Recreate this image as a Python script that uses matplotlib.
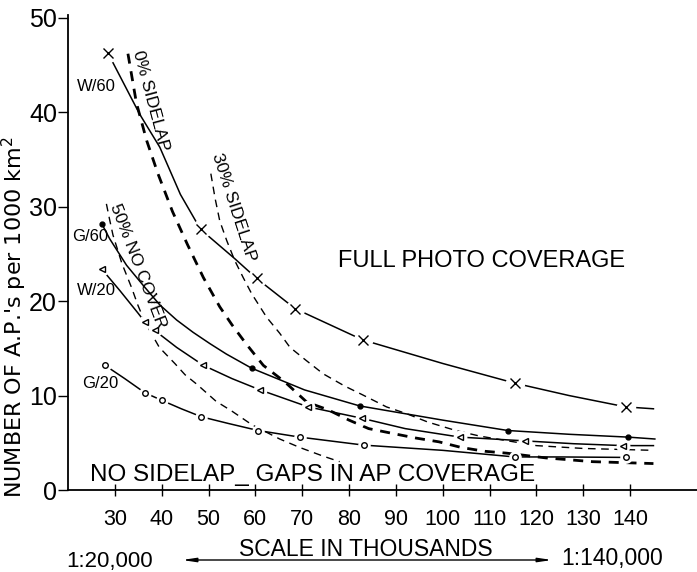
import matplotlib
matplotlib.use("Agg")
from matplotlib import pyplot as plt

# Number of air photos per 1000 km2 against photo scale (in thousands)
# curves with markers: W/60, G/60, W/20, G/20
w60_x = [28.5, 35.3, 39.6, 44.0, 48.3, 55.6, 60.3, 68.5, 82.9, 100.0, 115.5, 127.0, 139.1, 145.0]
w60_y = [46.3, 39.8, 36.3, 31.3, 27.6, 24.5, 22.4, 19.2, 15.9, 13.4, 11.3, 10.0, 8.8, 8.6]
w60_marks = [0, 4, 6, 7, 8, 10, 12]

g60_x = [27.2, 28.9, 32.5, 36.0, 39.6, 43.2, 46.7, 50.3, 53.8, 59.2, 70.5, 82.3, 100.0, 113.9, 127.0, 139.6, 145.3]
g60_y = [28.2, 26.6, 23.8, 21.7, 19.6, 18.0, 16.7, 15.5, 14.4, 12.9, 10.6, 8.9, 7.4, 6.3, 5.9, 5.6, 5.4]
g60_marks = [0, 9, 11, 13, 15]

w20_x = [27.2, 31.1, 35.0, 36.4, 38.5, 43.2, 48.9, 55.0, 61.0, 71.3, 82.7, 92.0, 103.7, 117.6, 128.0, 138.6, 145.0]
w20_y = [23.4, 21.1, 18.7, 17.8, 16.9, 15.1, 13.2, 11.8, 10.6, 8.8, 7.6, 6.5, 5.6, 5.2, 4.9, 4.7, 4.7]
w20_marks = [0, 3, 4, 6, 8, 9, 10, 12, 13, 15]

g20_x = [27.9, 32.1, 36.4, 40.0, 44.2, 48.5, 54.2, 60.6, 69.5, 83.2, 100.0, 115.4, 125.0, 139.1]
g20_y = [13.2, 11.8, 10.3, 9.5, 8.6, 7.75, 7.05, 6.3, 5.6, 4.75, 4.2, 3.5, 3.5, 3.45]
g20_marks = [0, 2, 3, 5, 7, 8, 9, 11, 13]

# boundary curves (dashed)
side0_x = [32.8, 34.6, 36.8, 39.2, 42.3, 45.5, 48.9, 52.4, 55.0, 58.0, 61.7, 66.4, 71.0, 75.5, 80.0,
           84.2, 89.2, 94.3, 99.2, 104.0, 109.0, 113.7, 122.0, 132.0, 145.0]
side0_y = [46.2, 41.0, 37.0, 33.5, 29.5, 26.0, 22.5, 19.4, 17.5, 15.5, 13.2, 11.4, 9.3, 8.5, 7.4,
           6.5, 6.0, 5.5, 5.1, 4.5, 4.1, 3.9, 3.4, 3.0, 2.8]

side30_x = [50.5, 51.4, 52.4, 53.9, 55.6, 57.4, 59.2, 62.4, 65.2, 67.4, 70.9, 74.5, 79.1, 82.8, 88.0,
            92.2, 96.8, 102.8, 108.0, 114.0, 120.0, 130.0, 145.0]
side30_y = [33.5, 30.9, 28.5, 26.4, 24.3, 22.5, 20.8, 18.3, 16.6, 15.1, 13.7, 12.3, 11.0, 10.1, 8.8,
            8.1, 7.2, 6.3, 5.7, 5.2, 4.7, 4.4, 4.2]

nocover_x = [28.2, 28.9, 29.6, 31.5, 33.6, 34.9, 36.4, 39.5, 42.8, 45.0, 47.5, 51.6, 55.0, 59.3,
             65.2, 69.5, 74.4, 78.0]
nocover_y = [30.3, 28.6, 27.0, 24.0, 21.4, 19.6, 17.8, 15.1, 13.4, 12.2, 11.2, 9.4, 8.35, 6.9,
             5.4, 4.5, 3.6, 3.0]

x_ticks = [30, 40, 50, 60, 70, 80, 90, 100, 110, 120, 130, 140]
y_ticks = [0, 10, 20, 30, 40, 50]

plt.rcParams['font.family'] = ['Liberation Sans', 'DejaVu Sans']
plt.rcParams['mathtext.fontset'] = 'custom'
plt.rcParams['mathtext.rm'] = 'DejaVu Sans'

fig = plt.figure(figsize=(6.97, 5.72), dpi=100)
ax = fig.add_axes([68 / 697, 82 / 572, 629 / 697, 475 / 572])


def draw_curve(xs, ys, marks, marker, ms, face, halo):
    ax.plot(xs, ys, color='black', lw=1.1, zorder=2)
    mx = [xs[i] for i in marks]
    my = [ys[i] for i in marks]
    if halo:
        ax.plot(mx, my, ls='none', marker='o', ms=halo, mfc='white', mec='white', zorder=3)
    ax.plot(mx, my, ls='none', marker=marker, ms=ms, mfc=face, mec='black', mew=1.0, zorder=4)


draw_curve(w60_x, w60_y, w60_marks, 'x', 6.5, 'black', 13)
draw_curve(g60_x, g60_y, g60_marks, 'o', 3.5, 'black', 0)
draw_curve(w20_x, w20_y, w20_marks, '<', 5, 'white', 9)
draw_curve(g20_x, g20_y, g20_marks, 'o', 4, 'white', 8)

ax.plot(side0_x, side0_y, color='black', lw=2.0, dashes=(3.6, 2.8), zorder=1)
ax.plot(side30_x, side30_y, color='black', lw=1.0, dashes=(5.5, 4.0), zorder=1)
ax.plot(nocover_x, nocover_y, color='black', lw=1.0, dashes=(5.5, 4.0), zorder=1)

# labels of curves
ax.text(26.1, 42.7, 'W/60', fontsize=12, ha='center', va='center')
ax.text(24.7, 26.8, 'G/60', fontsize=12, ha='center', va='center')
ax.text(26.0, 21.1, 'W/20', fontsize=12, ha='center', va='center')
ax.text(26.9, 11.3, 'G/20', fontsize=12, ha='center', va='center')

ax.text(37.6, 41.2, '0% SIDELAP', fontsize=12.5, rotation=-75, rotation_mode='anchor',
        ha='center', va='center')
ax.text(55.4, 29.9, '30% SIDELAP', fontsize=12.5, rotation=-72, rotation_mode='anchor',
        ha='center', va='center')
ax.text(35.0, 23.7, '50% NO COVER', fontsize=12.5, rotation=-69, rotation_mode='anchor',
        ha='center', va='center')

ax.text(108.4, 24.3, 'FULL PHOTO COVERAGE', fontsize=17, ha='center', va='center')
ax.text(72.2, 1.6, 'NO SIDELAP_ GAPS IN AP COVERAGE', fontsize=17.5, ha='center', va='center')

ax.set_xlim(20, 154.3)
ax.set_ylim(0, 50.3)
ax.set_xticks(x_ticks)
ax.set_yticks(y_ticks)
ax.tick_params(axis='x', direction='inout', length=8, width=1, labelsize=15.5, pad=10)
ax.tick_params(axis='y', direction='out', length=7, width=1, labelsize=18, pad=1)
for side in ['top', 'right']:
    ax.spines[side].set_visible(False)
ax.spines['left'].set_linewidth(1.3)
ax.spines['bottom'].set_linewidth(1.3)

ax.set_ylabel("NUMBER OF A.P.'s per 1000 km$^2$", fontsize=16, family='DejaVu Sans')
ax.yaxis.set_label_coords(-0.062, 0.364)

# scale arrow below the axis
fig.text(366 / 697, 1 - 549 / 572, 'SCALE IN THOUSANDS', fontsize=16.5, ha='center', va='center')
fig.text(110 / 697, 1 - 561 / 572, '1:20,000', fontsize=16, ha='center', va='center')
fig.text(612 / 697, 1 - 559 / 572, '1:140,000', fontsize=16.5, ha='center', va='center')
ax.annotate('', xy=(182, 12), xytext=(552, 12), xycoords='figure pixels',
            textcoords='figure pixels',
            arrowprops=dict(arrowstyle='<|-|>,head_length=0.8,head_width=0.12',
                            color='black', lw=1.0, shrinkA=0, shrinkB=0))

fig.savefig('out.png', dpi=100, facecolor='white')
